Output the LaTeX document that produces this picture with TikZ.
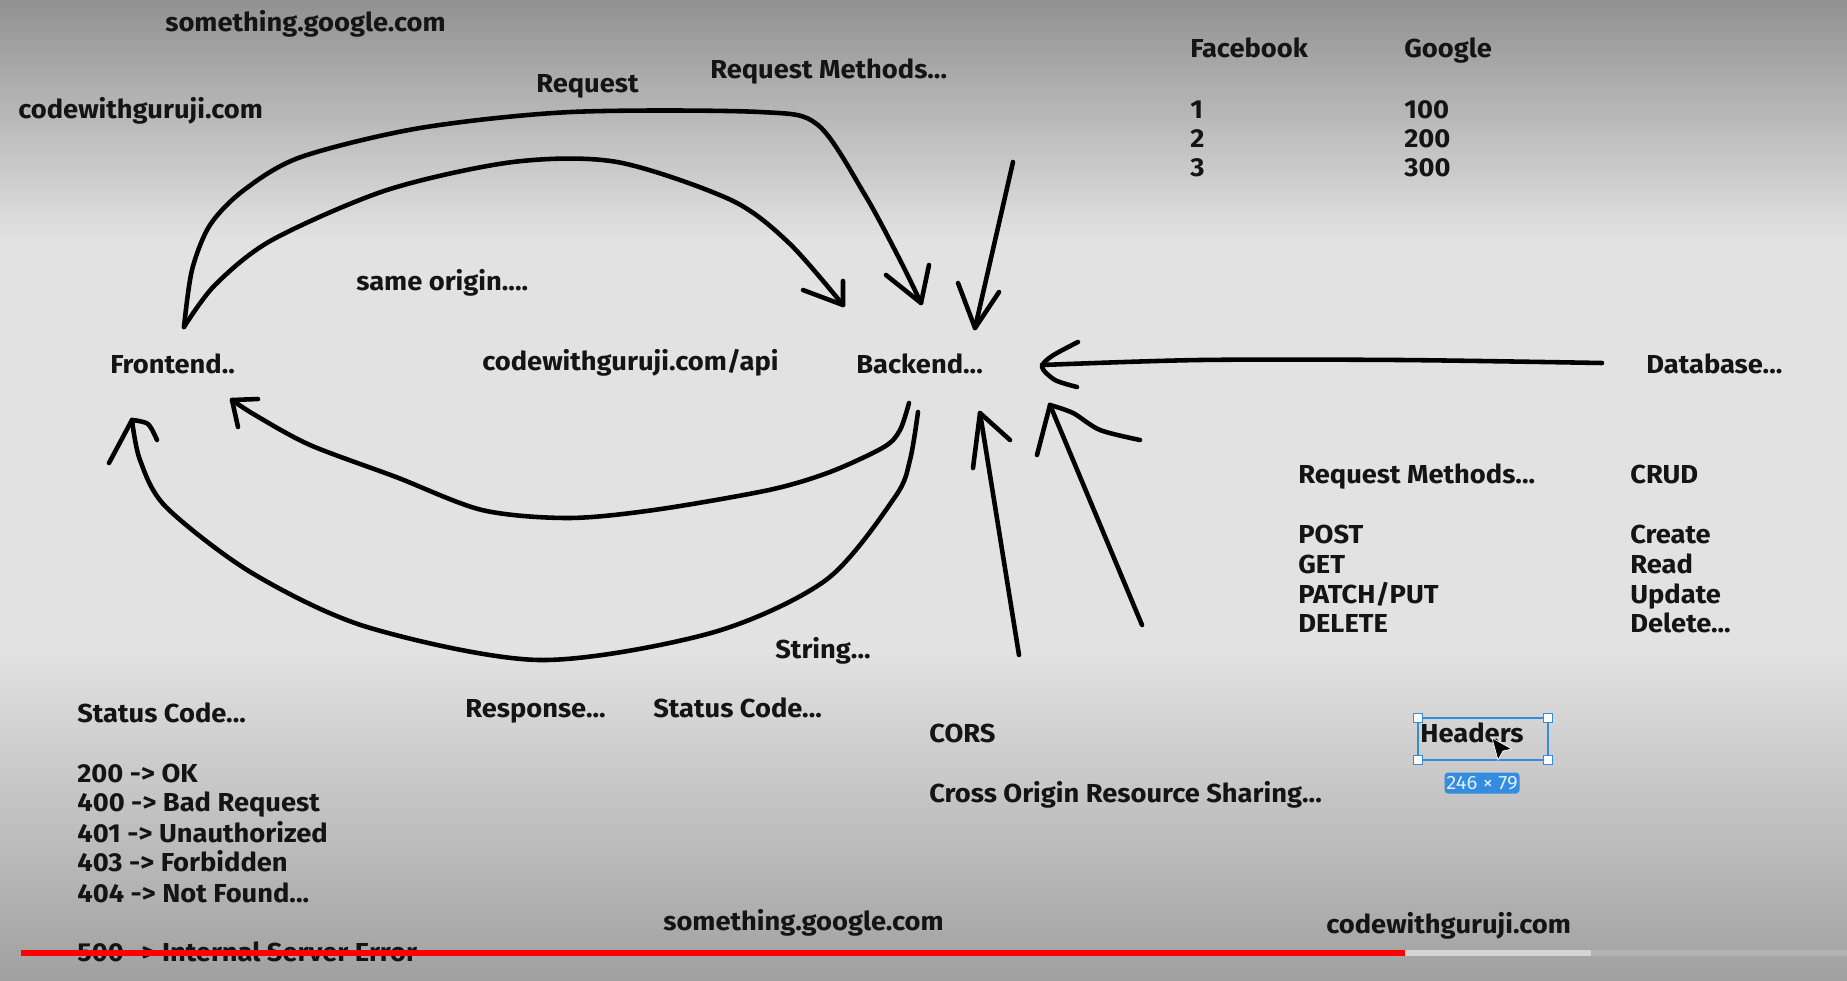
\documentclass[tikz,border=0pt]{standalone}
\usepackage{fontspec}
\setmainfont[FakeStretch=1.05]{Fira Sans}
\definecolor{bgtop}{RGB}{145,145,145}
\definecolor{bgmid}{RGB}{226,226,226}
\definecolor{bgbot}{RGB}{160,160,160}
\definecolor{selblue}{RGB}{52,140,225}
\definecolor{barred}{RGB}{255,0,0}
\definecolor{barlight}{RGB}{212,212,212}
\definecolor{bardark}{RGB}{178,178,178}
\tikzset{
  lbl/.style={anchor=base west, inner sep=0pt, font=\bfseries\fontsize{14.8}{16}\selectfont, text=black!92},
  ink/.style={line width=2.6pt, line cap=round, line join=round, black},
  handle/.style={draw=selblue, fill=white, line width=0.6pt, minimum size=5pt, inner sep=0pt},
}
\begin{document}
\begin{tikzpicture}[x=0.02cm,y=-0.02cm]
\useasboundingbox (0,0) rectangle (1847,981);
% background
\shade[top color=bgtop, bottom color=bgmid] (0,0) rectangle (1847,240);
\fill[bgmid] (0,239) rectangle (1847,651);
\shade[top color=bgmid, bottom color=bgbot] (0,650) rectangle (1847,981);

% texts
\node[lbl] (sgtop) at (165,31) {something.google.com};
\node[lbl] (cwgtop) at (18,118) {codewithguruji.com};
\node[lbl] (req) at (536,92) {Request};
\node[lbl] (rmtop) at (710,78) {Request Methods...};
\node[lbl] (fb) at (1190,57) {Facebook};
\node[lbl] (gg) at (1404,57) {Google};
\node[lbl] (f1) at (1190,118) {1};
\node[lbl] (g1) at (1404,118) {100};
\node[lbl] (f2) at (1190,147) {2};
\node[lbl] (g2) at (1404,147) {200};
\node[lbl] (f3) at (1190,176) {3};
\node[lbl] (g3) at (1404,176) {300};
\node[lbl] (same) at (356,290) {same origin....};
\node[lbl] (front) at (110,373) {Frontend..};
\node[lbl] (api) at (482,370) {codewithguruji.com/api};
\node[lbl] (back) at (856,373) {Backend...};
\node[lbl] (db) at (1646,373) {Database...};
\node[lbl] (rm) at (1298,483) {Request Methods...};
\node[lbl] (crud) at (1630,483) {CRUD};
\node[lbl] (post) at (1298,543) {POST};
\node[lbl] (get) at (1298,573) {GET};
\node[lbl] (patch) at (1298,603) {PATCH/PUT};
\node[lbl] (del) at (1298,632) {DELETE};
\node[lbl] (create) at (1630,543) {Create};
\node[lbl] (read) at (1630,573) {Read};
\node[lbl] (update) at (1630,603) {Update};
\node[lbl] (delete) at (1630,632) {Delete...};
\node[lbl] (str) at (775,658) {String...};
\node[lbl] (scl) at (77,722) {Status Code...};
\node[lbl] (resp) at (465,717) {Response...};
\node[lbl] (scm) at (653,717) {Status Code...};
\node[lbl] (cors) at (929,742) {CORS};
\node[lbl] (cross) at (929,802) {Cross Origin Resource Sharing...};
\node[lbl] (hdr) at (1420,742) {Headers};
\node[lbl] (s200) at (77,782) {200 -> OK};
\node[lbl] (s400) at (77,811) {400 -> Bad Request};
\node[lbl] (s401) at (77,842) {401 -> Unauthorized};
\node[lbl] (s403) at (77,871) {403 -> Forbidden};
\node[lbl] (s404) at (77,902) {404 -> Not Found...};
\node[lbl] (s500) at (77,961) {500 -> Internal Server Error};
\node[lbl] (sgbot) at (663,930) {something.google.com};
\node[lbl] (cwgbot) at (1326,933) {codewithguruji.com};

% request arrows (frontend -> backend)
\draw[ink] plot[smooth] coordinates {(184,327) (192,270) (210,225) (244,190) (301,157) (420,128) (571,112) (760,112) (818,125) (865,195) (900,260) (921,303)};
\draw[ink] (886,275) -- (921,303) -- (929,265);
\draw[ink] plot[smooth] coordinates {(184,327) (215,285) (272,240) (387,190) (513,162) (617,162) (731,200) (789,243) (843,305)};
\draw[ink] (803,290) -- (843,305) -- (843,281);
% arrow from above
\draw[ink] (1013,162) -- (975,328);
\draw[ink] (958,283) -- (975,328) -- (999,292);
% database arrow
\draw[ink] plot[smooth] coordinates {(1602,363) (1400,360) (1200,360) (1042,365)};
\draw[ink] plot[smooth] coordinates {(1078,342) (1052,356) (1042,367) (1055,380) (1077,387)};
% response arrows (backend -> frontend)
\draw[ink] plot[smooth] coordinates {(909,403) (900,430) (884,447) (830,472) (769,490) (654,510) (568,518) (482,510) (396,477) (310,445) (255,415) (232,400)};
\draw[ink] (258,399) -- (232,400) -- (238,427);
\draw[ink] plot[smooth] coordinates {(918,412) (910,460) (895,497) (826,580) (711,633) (539,660) (367,627) (252,573) (166,507) (140,460) (132,420)};
\draw[ink] (109,463) -- (132,420);
\draw[ink] plot[smooth] coordinates {(132,420) (148,424) (157,440)};
% arrows from below
\draw[ink] (1019,655) -- (980,413);
\draw[ink] (973,468) -- (980,413) -- (1010,440);
\draw[ink] (1142,625) -- (1050,405);
\draw[ink] (1037,455) -- (1050,405);
\draw[ink] plot[smooth] coordinates {(1050,405) (1073,413) (1100,430) (1140,440)};

% selection box around Headers
\draw[selblue, line width=0.8pt] (1418,718) rectangle (1548,760);
\node[handle] (h1) at (1418,718) {};
\node[handle] (h2) at (1548,718) {};
\node[handle] (h3) at (1418,760) {};
\node[handle] (h4) at (1548,760) {};
\node[fill=selblue, rounded corners=2pt, minimum width=1.5cm, minimum height=0.42cm, inner sep=0pt, text=white!85!selblue, font=\fontsize{11}{12}\selectfont] (dim) at (1482,783) {246 × 79};
% cursor
\filldraw[fill=black, draw=white, line width=0.4pt] (1492,738) -- (1512,749) -- (1503,751) -- (1498,760) -- cycle;

% progress bar
\fill[bardark] (1591,950) rectangle (1847,956);
\fill[barlight] (1405,950) rectangle (1591,956);
\fill[barred] (21,950) rectangle (1405,956);
\end{tikzpicture}
\end{document}
